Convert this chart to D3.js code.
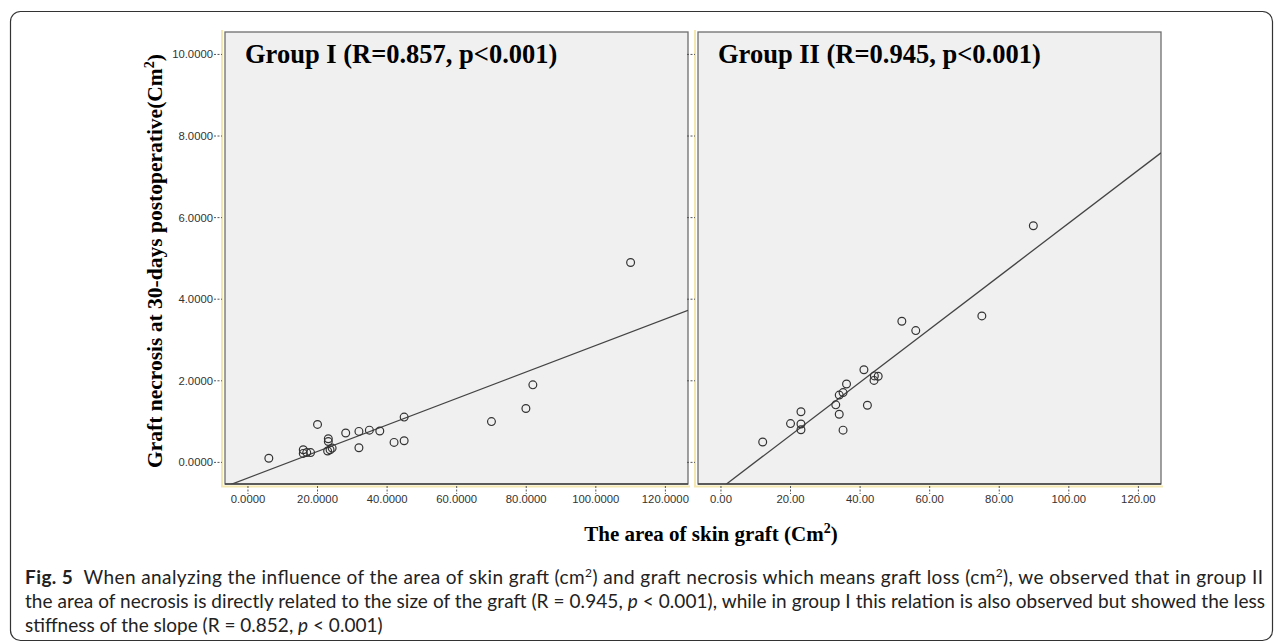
<!DOCTYPE html>
<html>
<head>
<meta charset="utf-8">
<script src="https://cdn.jsdelivr.net/npm/d3@7"></script>
<style>
  body { margin: 0; background: #fff; }
  svg { display: block; }
</style>
</head>
<body>
<div id="chart"></div>
<script>
// Data
const g1X = [6.0, 15.9, 15.9, 16.9, 18.0, 20.0, 23.1, 23.1, 22.9, 23.6, 24.2, 28.1, 31.9, 31.9, 34.9, 37.9, 42.0, 44.9, 44.9, 70.0, 79.9, 81.9, 110.0];
const g1Y = [0.10, 0.31, 0.22, 0.24, 0.24, 0.93, 0.58, 0.51, 0.28, 0.31, 0.35, 0.72, 0.76, 0.36, 0.79, 0.77, 0.49, 0.53, 1.11, 1.00, 1.32, 1.90, 4.90];
const g2X = [12.0, 20.0, 23.0, 23.0, 23.0, 33.0, 34.0, 34.0, 35.1, 35.1, 36.1, 41.1, 42.1, 44.0, 44.1, 45.2, 52.0, 56.0, 75.0, 89.8];
const g2Y = [0.50, 0.95, 1.24, 0.94, 0.80, 1.41, 1.18, 1.65, 1.71, 0.79, 1.92, 2.27, 1.40, 2.01, 2.12, 2.11, 3.46, 3.23, 3.59, 5.80];
// fitted lines: [intercept, slope]
const fit1 = [-0.382, 0.0325];
const fit2 = [-0.634, 0.0650];

const yTicks = [0, 2, 4, 6, 8, 10];
const xTicks = [0, 20, 40, 60, 80, 100, 120];
const titles = ["Group I (R=0.857, p<0.001)", "Group II (R=0.945, p<0.001)"];

const W = 1282, H = 642;
const svg = d3.select("#chart").append("svg")
  .attr("width", W).attr("height", H)
  .style("font-family", "'Liberation Sans', Arial, sans-serif");

// outer frame
svg.append("rect")
  .attr("x", 10.5).attr("y", 11.5)
  .attr("width", 1262).attr("height", 629)
  .attr("rx", 10)
  .attr("fill", "none").attr("stroke", "#333").attr("stroke-width", 1.2);

const plotTop = 32, plotBottom = 484;
const y = d3.scaleLinear().domain([-0.53, 10.55]).range([plotBottom, plotTop]);

const panels = [
  { left: 225, right: 688, xs: g1X, ys: g1Y, fit: fit1, fmt: d3.format(".4f"), title: titles[0], yLabels: true },
  { left: 698, right: 1161, xs: g2X, ys: g2Y, fit: fit2, fmt: d3.format(".2f"), title: titles[1], yLabels: false }
];

panels.forEach((p, i) => {
  const x = d3.scaleLinear().domain([-6.6, 126.5]).range([p.left, p.right]);
  const g = svg.append("g");

  // faint yellow frame along left / bottom
  g.append("path")
    .attr("d", `M${p.left - 3},${plotTop - 2} V${plotBottom + 2.5} H${p.right + 2}`)
    .attr("fill", "none").attr("stroke", "#f4e7b0").attr("stroke-width", 2);

  g.append("rect")
    .attr("x", p.left).attr("y", plotTop)
    .attr("width", p.right - p.left).attr("height", plotBottom - plotTop)
    .attr("fill", "#f0f0f0").attr("stroke", "#6e6e6e").attr("stroke-width", 1.3);

  g.append("line")
    .attr("x1", p.left).attr("x2", p.right)
    .attr("y1", plotBottom).attr("y2", plotBottom)
    .attr("stroke", "#444").attr("stroke-width", 1.5);

  // y ticks
  const yt = g.selectAll(".yt").data(yTicks).enter().append("g");
  yt.append("line")
    .attr("x1", p.left - 11).attr("x2", p.left - 3)
    .attr("y1", d => y(d)).attr("y2", d => y(d))
    .attr("stroke", "#555").attr("stroke-width", 1)
    .attr("stroke-dasharray", "2,1.5");
  if (p.yLabels) {
    yt.append("text")
      .attr("x", p.left - 12).attr("y", d => y(d))
      .attr("dy", "0.35em").attr("text-anchor", "end")
      .attr("font-size", 11.3).attr("fill", "#333")
      .text(d => p.fmt(d));
  }

  // x ticks
  const xt = g.selectAll(".xt").data(xTicks).enter().append("g");
  xt.append("line")
    .attr("x1", d => x(d)).attr("x2", d => x(d))
    .attr("y1", plotBottom + 2).attr("y2", plotBottom + 10)
    .attr("stroke", "#555").attr("stroke-width", 1)
    .attr("stroke-dasharray", "2,1.5");
  xt.append("text")
    .attr("x", d => x(d)).attr("y", plotBottom + 19)
    .attr("text-anchor", "middle")
    .attr("font-size", 11.3).attr("fill", "#333")
    .text(d => p.fmt(d));

  // regression line, clipped to plot area
  const clipId = "clip" + i;
  svg.append("clipPath").attr("id", clipId)
    .append("rect").attr("x", p.left).attr("y", plotTop)
    .attr("width", p.right - p.left).attr("height", plotBottom - plotTop);
  const x0 = -6.6, x1 = 126.5;
  g.append("line")
    .attr("clip-path", `url(#${clipId})`)
    .attr("x1", x(x0)).attr("y1", y(p.fit[0] + p.fit[1] * x0))
    .attr("x2", x(x1)).attr("y2", y(p.fit[0] + p.fit[1] * x1))
    .attr("stroke", "#444").attr("stroke-width", 1.3);

  // points
  g.selectAll(".pt").data(p.xs.map((v, k) => [v, p.ys[k]])).enter()
    .append("circle")
    .attr("cx", d => x(d[0])).attr("cy", d => y(d[1]))
    .attr("r", 3.9)
    .attr("fill", "none").attr("stroke", "#333").attr("stroke-width", 1.2);

  g.append("text")
    .attr("x", p.left + 20).attr("y", 63)
    .attr("font-family", "'Liberation Serif', 'Times New Roman', serif")
    .attr("font-weight", "bold").attr("font-size", 26.5)
    .text(p.title);
});

// axis titles
const serif = "'Liberation Serif', 'Times New Roman', serif";
const xTitle = svg.append("text")
  .attr("x", 711).attr("y", 541)
  .attr("text-anchor", "middle")
  .attr("font-family", serif).attr("font-weight", "bold").attr("font-size", 21);
xTitle.append("tspan").text("The area of skin graft (Cm");
xTitle.append("tspan").attr("font-size", 14).attr("dy", -8).text("2");
xTitle.append("tspan").attr("dy", 8).text(")");

const yTitle = svg.append("text")
  .attr("transform", "translate(162,261) rotate(-90)")
  .attr("text-anchor", "middle")
  .attr("font-family", serif).attr("font-weight", "bold").attr("font-size", 21.5);
yTitle.append("tspan").text("Graft necrosis at 30-days postoperative(Cm");
yTitle.append("tspan").attr("font-size", 14).attr("dy", -8).text("2");
yTitle.append("tspan").attr("dy", 8).text(")");

// caption
const capLines = [
  [["b", "Fig. 5"], ["t", "  When analyzing the influence of the area of skin graft (cm"], ["s", "2"], ["t", ") and graft necrosis which means graft loss (cm"], ["s", "2"], ["t", "), we observed that in group II"]],
  [["t", "the area of necrosis is directly related to the size of the graft (R = 0.945, "], ["i", "p"], ["t", " < 0.001), while in group I this relation is also observed but showed the less"]],
  [["t", "stiffness of the slope (R = 0.852, "], ["i", "p"], ["t", " < 0.001)"]]
];
const capLen = [1238, 1240, null];
capLines.forEach((parts, li) => {
  const t = svg.append("text")
    .attr("x", 25).attr("y", 584 + li * 24)
    .attr("font-family", "Lato, 'Open Sans', sans-serif")
    .attr("font-size", 19).attr("fill", "#222")
    .style("white-space", "pre");
  if (capLen[li]) t.attr("textLength", capLen[li]).attr("lengthAdjust", "spacing");
  let sup = false;
  parts.forEach(([k, s]) => {
    const ts = t.append("tspan").text(s);
    if (k === "b") ts.attr("font-weight", "bold");
    if (k === "i") ts.attr("font-style", "italic");
    if (k === "s") { ts.attr("font-size", 12).attr("dy", -7); sup = true; }
    else if (sup) { ts.attr("dy", 7); sup = false; }
  });
});
</script>
</body>
</html>
